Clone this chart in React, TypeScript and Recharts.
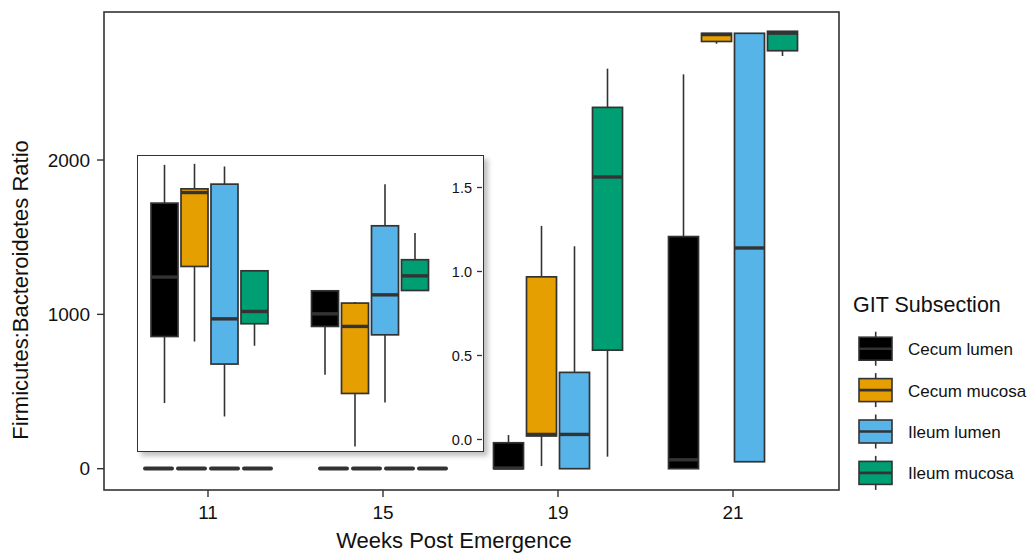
import React from 'react';
import { ComposedChart, Bar, XAxis, YAxis } from 'recharts';

const FONT = '"Liberation Sans", Arial, Helvetica, sans-serif';

const weeks = ['11', '15', '19', '21'];
const insetWeeks = ['11', '15'];
const seriesNames = ['Cecum lumen', 'Cecum mucosa', 'Ileum lumen', 'Ileum mucosa'];
const seriesColors = ['#000000', '#E69F00', '#56B4E9', '#009E73'];
const seriesKeys = ['cecumLumen', 'cecumMucosa', 'ileumLumen', 'ileumMucosa'];

// [min, q1, median, q3, max] for each week
const cecumLumen = [
  [0.217, 0.613, 0.967, 1.407, 1.635],
  [0.385, 0.673, 0.748, 0.885, 0.885],
  [0, 0, 4, 168, 218],
  [0, 0, 58, 1504, 2555],
];
const cecumMucosa = [
  [0.583, 1.03, 1.47, 1.492, 1.641],
  [-0.042, 0.274, 0.673, 0.812, 0.818],
  [17, 212, 222, 1243, 1573],
  [2753, 2768, 2813, 2821, 2821],
];
const ileumLumen = [
  [0.137, 0.449, 0.718, 1.52, 1.625],
  [0.22, 0.623, 0.861, 1.272, 1.52],
  [0, 0, 222, 624, 1441],
  [45, 45, 1430, 2821, 2821],
];
const ileumMucosa = [
  [0.558, 0.689, 0.762, 1.004, 1.004],
  [0.887, 0.887, 0.974, 1.07, 1.229],
  [78, 768, 1890, 2341, 2592],
  [2674, 2708, 2822, 2834, 2834],
];

const mainTicks = [0, 1000, 2000];
const insetTicks = [0, 0.5, 1, 1.5];

const seriesStats = [cecumLumen, cecumMucosa, ileumLumen, ileumMucosa];

const mainData = weeks.map((w, i) => {
  const row: any = { week: w };
  seriesKeys.forEach((k, j) => {
    row[k] = seriesStats[j][i];
  });
  return row;
});
const insetData = mainData.filter((r) => insetWeeks.includes(r.week));

const EDGE = '#333333';

const makeBoxShape = (j: number) => (props: any) => {
  const { x, y, width, height, payload } = props;
  const s = payload[seriesKeys[j]];
  const [mn, q1, md, q3, mx] = s;
  const top = Math.min(y, y + height);
  const bot = Math.max(y, y + height);
  const span = mx - mn;
  const px = (v: number) => (span === 0 ? top : top + ((mx - v) / span) * (bot - top));
  const cx = x + width / 2;
  if (bot - top < 2) {
    return (
      <g>
        <line x1={x + 1.5} x2={x + width - 1.5} y1={px(md)} y2={px(md)} stroke={EDGE} strokeWidth={4} strokeLinecap="round" />
      </g>
    );
  }
  return (
    <g>
      <line x1={cx} x2={cx} y1={px(mx)} y2={px(q3)} stroke={EDGE} strokeWidth={1.6} />
      <line x1={cx} x2={cx} y1={px(q1)} y2={px(mn)} stroke={EDGE} strokeWidth={1.6} />
      <rect x={x} y={px(q3)} width={width} height={Math.max(px(q1) - px(q3), 0.5)} fill={seriesColors[j]} stroke={EDGE} strokeWidth={1.7} />
      <line x1={x} x2={x + width} y1={px(md)} y2={px(md)} stroke={EDGE} strokeWidth={3.4} />
    </g>
  );
};

const rangeKey = (k: string) => (d: any) => [d[k][0], d[k][4]];

const legendCenters = seriesNames.map((_, i) => 348.7 + i * 41.4);

export default function App() {
  return (
    <div style={{ position: 'absolute', left: 0, top: 0, width: 1032, height: 557, background: '#fff', fontFamily: FONT }}>
      <div style={{ position: 'absolute', left: 0, top: 0 }}>
        <ComposedChart
          width={1032}
          height={557}
          data={mainData}
          margin={{ top: 12, right: 193, bottom: 37, left: 44 }}
          barSize={30}
          barGap={3}
        >
          <XAxis
            dataKey="week"
            height={30}
            interval={0}
            padding={{ left: 16.5, right: 18.5 }}
            axisLine={false}
            tickLine={{ stroke: EDGE, strokeWidth: 1.4 }}
            tickSize={7}
            tickMargin={9}
            tick={{ fontSize: 19, fill: '#111', fontFamily: FONT }}
          />
          <YAxis
            type="number"
            domain={[-138, 2959]}
            allowDataOverflow
            ticks={mainTicks}
            width={60}
            axisLine={false}
            tickLine={{ stroke: EDGE, strokeWidth: 1.4 }}
            tickSize={7}
            tickMargin={7}
            tick={{ fontSize: 19, fill: '#111', fontFamily: FONT }}
          />
          {seriesKeys.map((k, j) => (
            <Bar key={k} name={seriesNames[j]} dataKey={rangeKey(k)} shape={makeBoxShape(j)} isAnimationActive={false} />
          ))}
        </ComposedChart>
      </div>
      <svg width={1032} height={557} style={{ position: 'absolute', left: 0, top: 0, pointerEvents: 'none' }}>
        <rect x={104} y={12} width={735} height={478} fill="none" stroke={EDGE} strokeWidth={1.6} />
        <text x={27.5} y={290} transform="rotate(-90 27.5 290)" textAnchor="middle" fontSize={22} fill="#111" fontFamily={FONT}>
          Firmicutes:Bacteroidetes Ratio
        </text>
        <text x={454} y={547.5} textAnchor="middle" fontSize={22} fill="#111" fontFamily={FONT}>
          Weeks Post Emergence
        </text>
        <text x={853} y={312} fontSize={21.5} fill="#111" fontFamily={FONT}>
          GIT Subsection
        </text>
        {seriesNames.map((n, i) => {
          const c = legendCenters[i];
          return (
            <g key={n}>
              <line x1={875.7} x2={875.7} y1={c - 17} y2={c + 17} stroke={EDGE} strokeWidth={1.6} />
              <rect x={859} y={c - 11.5} width={33} height={23} fill={seriesColors[i]} stroke={EDGE} strokeWidth={1.6} />
              <line x1={859} x2={892} y1={c} y2={c} stroke={EDGE} strokeWidth={2.6} />
              <text x={908} y={c + 6.5} fontSize={17} fill="#111" fontFamily={FONT}>
                {n}
              </text>
            </g>
          );
        })}
      </svg>
      <div
        style={{
          position: 'absolute',
          left: 137,
          top: 155,
          width: 347,
          height: 297,
          boxSizing: 'border-box',
          border: `1.4px solid ${EDGE}`,
          background: '#fff',
          overflow: 'hidden',
          boxShadow: '4px 4px 5px rgba(0,0,0,0.25)',
        }}
      >
        <div style={{ position: 'absolute', left: -9, top: 0 }}>
          <ComposedChart
            width={353}
            height={295}
            data={insetData}
            margin={{ top: 0, right: 0, bottom: 0, left: 0 }}
            barSize={27}
            barGap={3}
          >
            <XAxis dataKey="week" hide padding={{ left: 0, right: 32 }} />
            <YAxis
              type="number"
              orientation="right"
              mirror
              domain={[-0.0685, 1.6875]}
              allowDataOverflow
              ticks={insetTicks}
              tickFormatter={(v: number) => v.toFixed(1)}
              axisLine={false}
              tickLine={{ stroke: EDGE, strokeWidth: 1.3 }}
              tickSize={5}
              tickMargin={5}
              tick={{ fontSize: 14.5, fill: '#111', fontFamily: FONT }}
            />
            {seriesKeys.map((k, j) => (
              <Bar key={k} name={seriesNames[j]} dataKey={rangeKey(k)} shape={makeBoxShape(j)} isAnimationActive={false} />
            ))}
          </ComposedChart>
        </div>
      </div>
    </div>
  );
}
